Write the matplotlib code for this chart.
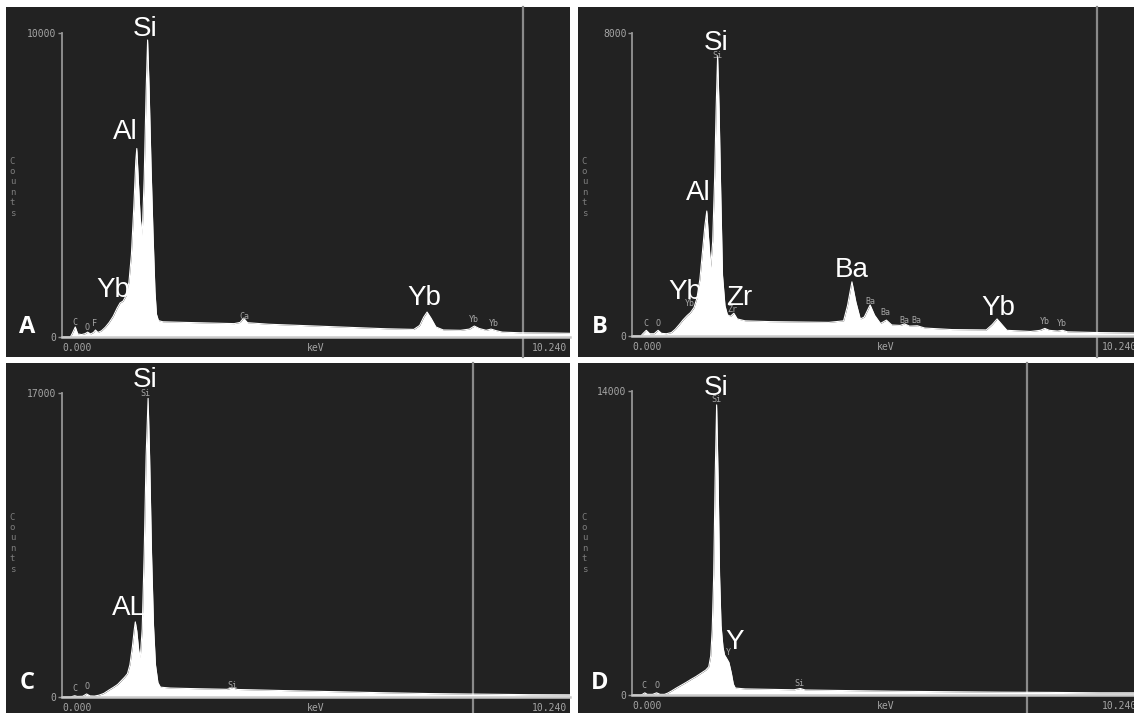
import matplotlib
matplotlib.use("Agg")
import matplotlib.pyplot as plt
from matplotlib.patches import Rectangle
from matplotlib.transforms import blended_transform_factory

W, H = 1134, 713
PX_PER_KEV = 49.2

# ---------------- data (keV, counts) ----------------
energy_A = [0.00, 0.17, 0.21, 0.27, 0.32, 0.40, 0.47, 0.52, 0.58, 0.64, 0.68, 0.73,
            0.80, 0.88, 0.96, 1.04, 1.12, 1.18, 1.24, 1.30, 1.36, 1.41, 1.46, 1.50,
            1.52, 1.55, 1.59, 1.63, 1.67, 1.71, 1.74, 1.77, 1.81, 1.85, 1.89, 1.92,
            1.96, 2.05, 2.5, 3.0, 3.5, 3.62, 3.69, 3.77, 4.2, 5.0, 5.8, 6.6, 7.15,
            7.27, 7.35, 7.42, 7.50, 7.60, 7.75, 8.1, 8.28, 8.38, 8.48, 8.62, 8.72,
            8.82, 8.95, 9.3, 10.0, 10.4]
counts_A = [0, 0, 120, 330, 100, 80, 110, 160, 100, 150, 230, 150,
            200, 320, 480, 680, 950, 1120, 1180, 1350, 1800, 2700, 4300, 5800,
            6200, 5200, 3900, 3360, 5200, 8100, 9770, 8200, 5600, 3400, 1500, 750,
            540, 500, 480, 460, 440, 480, 620, 470, 420, 370, 320, 270, 250,
            380, 650, 820, 620, 330, 230, 220, 260, 360, 280, 220, 260,
            210, 160, 140, 130, 120]

energy_B = [0.00, 0.18, 0.22, 0.29, 0.36, 0.45, 0.53, 0.60, 0.70, 0.80, 0.88, 0.96,
            1.04, 1.12, 1.19, 1.26, 1.32, 1.38, 1.43, 1.48, 1.52, 1.55, 1.60, 1.64,
            1.68, 1.71, 1.74, 1.77, 1.80, 1.84, 1.89, 1.94, 2.00, 2.07, 2.14, 2.3,
            2.8, 3.4, 4.0, 4.3, 4.38, 4.47, 4.55, 4.64, 4.72, 4.84, 4.93, 5.05,
            5.17, 5.28, 5.45, 5.54, 5.64, 5.8, 5.95, 6.5, 7.2, 7.32, 7.42, 7.52,
            7.62, 8.1, 8.3, 8.39, 8.48, 8.65, 8.75, 8.85, 9.5, 10.3]
counts_B = [0, 0, 60, 150, 60, 60, 150, 70, 60, 90, 180, 300,
            430, 540, 620, 750, 1000, 1500, 2200, 2900, 3300, 2700, 1820, 2500,
            4200, 6000, 7400, 6000, 4000, 1600, 800, 560, 520, 600, 450, 400,
            380, 370, 360, 400, 800, 1430, 900, 450, 500, 820, 550, 330,
            420, 290, 280, 320, 260, 270, 210, 170, 160, 300, 450, 300,
            150, 120, 150, 200, 150, 130, 150, 110, 90, 80]

energy_C = [0.00, 0.18, 0.22, 0.26, 0.31, 0.42, 0.50, 0.57, 0.66, 0.75, 0.85, 0.95,
            1.05, 1.13, 1.20, 1.27, 1.33, 1.38, 1.43, 1.47, 1.49, 1.52, 1.56, 1.59,
            1.63, 1.67, 1.71, 1.75, 1.78, 1.82, 1.86, 1.90, 1.95, 2.00, 2.2, 2.8,
            3.35, 3.46, 3.57, 4.5, 5.5, 6.5, 7.5, 8.5, 9.5, 10.4]
counts_C = [0, 0, 40, 70, 30, 40, 170, 60, 50, 100, 200, 380,
            550, 700, 900, 1100, 1300, 1800, 2800, 3800, 4200, 3700, 2600, 2200,
            3800, 8000, 13500, 16700, 13500, 8000, 4000, 1800, 800, 550, 500, 460,
            430, 500, 420, 360, 300, 240, 190, 160, 130, 120]

energy_D = [0.00, 0.18, 0.22, 0.26, 0.31, 0.42, 0.50, 0.57, 0.66, 0.72, 0.80, 0.90,
            1.00, 1.10, 1.20, 1.30, 1.40, 1.50, 1.56, 1.60, 1.63, 1.66, 1.69, 1.72,
            1.75, 1.78, 1.81, 1.85, 1.88, 1.92, 1.97, 2.02, 2.06, 2.10, 2.3, 2.8,
            3.3, 3.42, 3.52, 4.5, 5.5, 6.5, 7.5, 8.5, 9.5, 10.4]
counts_D = [0, 0, 40, 100, 30, 30, 100, 30, 30, 80, 180, 320,
            450, 580, 720, 850, 1000, 1150, 1300, 1800, 3000, 5500, 10000, 13360,
            10000, 5500, 3200, 2200, 1850, 1700, 1500, 1000, 500, 320, 280, 260,
            240, 300, 230, 200, 170, 150, 130, 120, 100, 100]

ymax_A, ymax_B, ymax_C, ymax_D = 10000, 8000, 17000, 14000
cursor_A, cursor_B, cursor_C, cursor_D = 9.37, 9.45, 8.36, 8.03

# big element labels (text, keV, counts)
big_A = [("Si", 1.69, 10130), ("Al", 1.29, 6740), ("Yb", 1.04, 1550), ("Yb", 7.36, 1280)]
big_B = [("Si", 1.72, 7730), ("Al", 1.34, 3770), ("Yb", 1.08, 1160), ("Zr", 2.17, 1000),
         ("Ba", 4.47, 1740), ("Yb", 7.44, 740)]
big_C = [("Si", 1.70, 17710), ("AL", 1.36, 4970)]
big_D = [("Si", 1.72, 14150), ("Y", 2.09, 2440)]

# small software peak labels (text, keV, counts)
small_A = [("C", 0.26, 490), ("O", 0.51, 300), ("F", 0.67, 460), ("Ca", 3.70, 690),
           ("Yb", 8.37, 590), ("Yb", 8.78, 460)]
small_B = [("C", 0.28, 320), ("O", 0.53, 320), ("Yb", 1.18, 870), ("Zr", 2.05, 690),
           ("Si", 1.73, 7400), ("Ba", 4.84, 900), ("Ba", 5.16, 610), ("Ba", 5.53, 420),
           ("Ba", 5.79, 400), ("Yb", 8.39, 370), ("Yb", 8.74, 320)]
small_C = [("C", 0.26, 500), ("O", 0.51, 610), ("Si", 1.69, 16950), ("Si", 3.46, 670)]
small_D = [("C", 0.25, 460), ("O", 0.51, 460), ("Si", 1.71, 13600), ("Y", 1.95, 1950),
           ("Si", 3.41, 510)]

# ---------------- layout (pixels) ----------------
BG = '#222222'
AXC = '#959595'
TXT = '#a5a5a5'

fig = plt.figure(figsize=(W / 100, H / 100), dpi=100, facecolor='white')


def rect(x0, y0, x1, y1):
    return [x0 / W, 1 - y1 / H, (x1 - x0) / W, (y1 - y0) / H]


def draw_panel(panel, axis_x, top_y, base_y, energy, counts, ymax, cursor,
               letter, big, small):
    px0, py0, px1, py1 = panel
    fig.add_artist(Rectangle((px0 / W, 1 - py1 / H), (px1 - px0) / W, (py1 - py0) / H,
                             transform=fig.transFigure, facecolor=BG,
                             edgecolor='none', zorder=-5))
    ax = fig.add_axes(rect(axis_x, top_y, px1, base_y))
    ax.set_facecolor('none')
    ax.set_xlim(0, (px1 - axis_x) / PX_PER_KEV)
    ax.set_ylim(0, ymax)
    ax.fill_between(energy, counts, 0, color='white', lw=0, zorder=2)
    ax.plot(energy, counts, color='white', lw=0.8, zorder=2)

    for s in ('top', 'right'):
        ax.spines[s].set_visible(False)
    ax.spines['left'].set_color(AXC)
    ax.spines['left'].set_linewidth(1.3)
    ax.spines['bottom'].set_color('#c9c9c9')
    ax.spines['bottom'].set_linewidth(1.8)
    ax.set_xticks([])
    ax.set_yticks([0, ymax])
    ax.set_yticklabels(['0', str(ymax)])
    ax.tick_params(axis='y', length=3, width=1, color=AXC, labelcolor=TXT,
                   labelsize=7, pad=1)
    for lbl in ax.get_yticklabels():
        lbl.set_family('DejaVu Sans Mono')

    hpx = base_y - top_y
    ax.axvline(cursor, ymin=(base_y - py1) / hpx, ymax=(base_y - py0) / hpx,
               color='#8a8a8a', lw=1.6, clip_on=False, zorder=1)

    tr = blended_transform_factory(ax.transData, ax.transAxes)
    yb = -11 / hpx
    ax.text(0, yb, "0.000", transform=tr, ha='left', va='center', fontsize=7,
            color=TXT, family='DejaVu Sans Mono')
    ax.text(5.15, yb, "keV", transform=tr, ha='center', va='center', fontsize=7,
            color=TXT, family='DejaVu Sans Mono')
    ax.text(9.55, yb, "10.240", transform=tr, ha='left', va='center', fontsize=7,
            color=TXT, family='DejaVu Sans Mono')

    for s, x, y in small:
        ax.text(x, y, s, ha='center', va='center', fontsize=6, color=TXT,
                family='DejaVu Sans Mono', zorder=3)
    for s, x, y in big:
        ax.text(x, y, s, ha='center', va='center', fontsize=20, color='white',
                family='Liberation Sans', zorder=4, clip_on=False)

    fig.text((px0 + 6.5) / W, 1 - (py0 + 180) / H, "C\no\nu\nn\nt\ns",
             ha='center', va='center', fontsize=6.5, color='#7d7d7d',
             family='DejaVu Sans Mono', linespacing=1.2)
    fig.text((px0 + 21.5) / W, 1 - (py1 - 30) / H, letter, ha='center', va='center',
             fontsize=17, fontweight='bold', family='Open Sans', color='white')
    return ax


draw_panel((6, 7, 570, 357), 62, 33, 337, energy_A, counts_A, ymax_A, cursor_A,
           "A", big_A, small_A)
draw_panel((578, 7, 1134, 357), 632, 33, 336, energy_B, counts_B, ymax_B, cursor_B,
           "B", big_B, small_B)
draw_panel((6, 363, 570, 713), 62, 393, 697, energy_C, counts_C, ymax_C, cursor_C,
           "C", big_C, small_C)
draw_panel((578, 363, 1134, 713), 632, 391, 695, energy_D, counts_D, ymax_D, cursor_D,
           "D", big_D, small_D)

fig.savefig("out.png", dpi=100, facecolor='white')
